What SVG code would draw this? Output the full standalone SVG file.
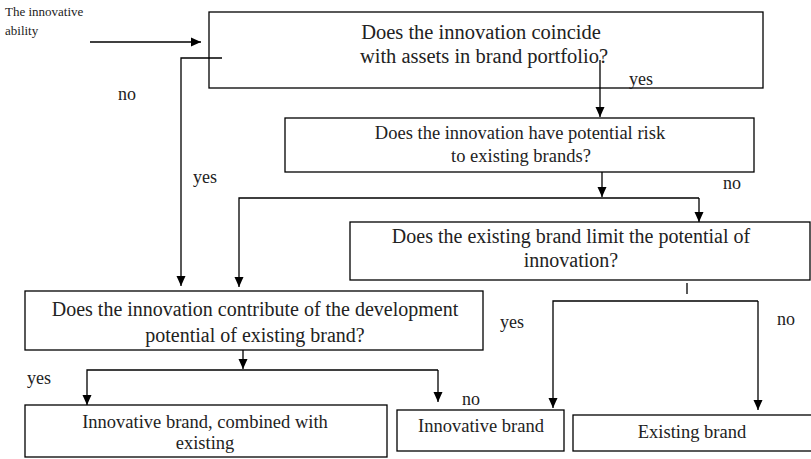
<svg xmlns="http://www.w3.org/2000/svg" width="811" height="459" viewBox="0 0 811 459">
<style>
.box{fill:#fff;stroke:#000;stroke-width:1.3}
.t{font-family:"Liberation Serif","Times New Roman",serif;fill:#222;text-anchor:middle}
.l{font-family:"Liberation Serif","Times New Roman",serif;fill:#222;font-size:18px}
.c{fill:none;stroke:#000;stroke-width:1.3}
.a{marker-end:url(#arr)}
</style>
<defs>
<marker id="arr" viewBox="0 0 10 10" refX="10" refY="5" markerWidth="10" markerHeight="10" markerUnits="userSpaceOnUse" orient="auto"><path d="M0,0.5 L10,5 L0,9.5 z" fill="#000"/></marker>
</defs>
<rect width="811" height="459" fill="#fff"/>
<g id="connectors">
<path class="c a" d="M90,42 H201"/>
<path class="c a" d="M222,58 H181 V286"/>
<path class="c a" d="M600,60 V117"/>
<path class="c a" d="M602,172 V197"/>
<path class="c a" d="M699,198 H239 V287"/>
<path class="c a" d="M699,198 V222"/>
<path class="c" d="M687,283 V294"/>
<path class="c a" d="M758,301 H553 V408"/>
<path class="c a" d="M758,301 V410"/>
<path class="c a" d="M243,350 V369"/>
<path class="c a" d="M438,370 H87 V405"/>
<path class="c a" d="M438,370 V402"/>
</g>
<g id="input">
<text class="l" x="5" y="16" style="font-size:13px">The innovative</text>
<text class="l" x="5" y="35" style="font-size:13px">ability</text>
</g>
<g id="q1">
<rect class="box" x="209" y="12" width="554" height="76" style="fill:none"/>
<text class="t" x="481" y="39" font-size="20.5">Does the innovation coincide</text>
<text class="t" x="484" y="63" font-size="20.5">with assets in brand portfolio?</text>
</g>
<g id="q2">
<rect class="box" x="285" y="118" width="469" height="54"/>
<text class="t" x="520" y="139" font-size="18.5">Does the innovation have potential risk</text>
<text class="t" x="521" y="162" font-size="18.5">to existing brands?</text>
</g>
<g id="q3">
<rect class="box" x="350" y="222" width="460" height="58"/>
<text class="t" x="571" y="243" font-size="20">Does the existing brand limit the potential of</text>
<text class="t" x="571" y="267" font-size="20">innovation?</text>
</g>
<g id="q4">
<rect class="box" x="25" y="291" width="458" height="59"/>
<text class="t" x="255" y="316" font-size="20">Does the innovation contribute of the development</text>
<text class="t" x="255" y="342" font-size="20">potential of existing brand?</text>
</g>
<g id="r1">
<rect class="box" x="25" y="405" width="362" height="52"/>
<text class="t" x="205" y="428" font-size="18.5">Innovative brand, combined with</text>
<text class="t" x="205" y="449" font-size="18.5">existing</text>
</g>
<g id="r2">
<rect class="box" x="397" y="410" width="167" height="41"/>
<text class="t" x="481" y="432" font-size="18.5">Innovative brand</text>
</g>
<g id="r3">
<rect class="box" x="573" y="415" width="240" height="36"/>
<text class="t" x="692" y="438" font-size="18.5">Existing brand</text>
</g>
<g id="labels">
<text class="l" x="118" y="100">no</text>
<text class="l" x="629" y="85">yes</text>
<text class="l" x="193" y="183">yes</text>
<text class="l" x="723" y="189">no</text>
<text class="l" x="500" y="328">yes</text>
<text class="l" x="777" y="325">no</text>
<text class="l" x="27" y="384">yes</text>
<text class="l" x="462" y="405">no</text>
</g>
</svg>
